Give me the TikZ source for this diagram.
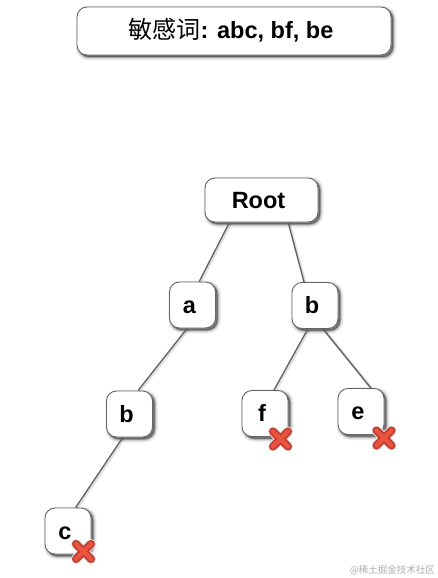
\documentclass[tikz,border=0pt]{standalone}
\usepackage{fontspec}
\setmainfont{Liberation Sans}
\newfontfamily\cjk{Noto Sans CJK SC}
\definecolor{xdarkc}{RGB}{196,58,48}
\definecolor{xredc}{RGB}{232,84,62}
\definecolor{xhaloc}{RGB}{226,222,220}
\newcommand{\lbl}[1]{\raisebox{-8pt}[0pt][0pt]{#1}\kern6pt}
\tikzset{
  softshadow/.style={
    preaction={draw=black,line width=7pt,opacity=.05,transform canvas={shift={(2pt,-2pt)}},fill=black},
    preaction={draw=black,line width=5pt,opacity=.08,transform canvas={shift={(2pt,-2pt)}},fill=black},
    preaction={draw=black,line width=3pt,opacity=.12,transform canvas={shift={(2pt,-2pt)}},fill=black},
    preaction={draw=black,line width=1.5pt,opacity=.2,transform canvas={shift={(2pt,-2pt)}},fill=black}},
  card/.style={rectangle,rounded corners=10pt,draw=black!60,line width=.9pt,fill=white,inner sep=0pt,
    softshadow,font=\fontsize{23.5}{26}\selectfont\bfseries,text=black},
  letterbox/.style={card,minimum width=46pt,minimum height=46pt},
  edgeglow/.style={draw=black,line width=3pt,opacity=.12},
  edge/.style={draw=black!62,line width=1.3pt},
  xhalo/.style={line cap=round,line width=10pt,draw=xhaloc},
  xdark/.style={line cap=round,line width=8pt,draw=xdarkc},
  xred/.style={line cap=round,line width=4.5pt,draw=xredc},
  crossmark/.pic={
    \foreach \sty in {xhalo,xdark,xred}{
      \draw[\sty] (-7.5pt,-7.5pt) -- (7.5pt,7.5pt);
      \draw[\sty] (-7.5pt,7.5pt) -- (7.5pt,-7.5pt);
    }
  }
}
\begin{document}
\begin{tikzpicture}[x=1pt,y=-1pt]
\useasboundingbox[fill=white] (0,0) rectangle (438,578);
\node[card,minimum width=314pt,minimum height=48pt] (title) at (234,31)
  {\lbl{{\cjk\fontsize{24}{26}\selectfont\mdseries 敏感词}\fontsize{23.5}{26}\selectfont: abc, bf, be}};
\node[card,minimum width=113pt,minimum height=44pt] (root) at (261.5,200) {\lbl{Root}};
\node[letterbox] (a) at (192.5,305) {\lbl{a}};
\node[letterbox] (br) at (315,305.5) {\lbl{b}};
\node[letterbox] (bl) at (129.5,414) {\lbl{b}};
\node[letterbox] (f) at (265,413.5) {\lbl{f}};
\node[letterbox] (e) at (361,411.5) {\lbl{e}};
\node[letterbox] (c) at (68,531) {\lbl{c}};
\foreach \sa/\aa/\sb/\ab in {root/215/a/74,root/320/br/115,a/257/bl/70,br/253/f/69,br/289/e/67,bl/254/c/72}{
  \draw[edgeglow] ([shift={(1pt,-1pt)}]\sa.\aa) -- ([shift={(1pt,-1pt)}]\sb.\ab);
  \draw[edge] (\sa.\aa) -- (\sb.\ab);
}
\pic at (280.5,439) {crossmark};
\pic at (384,438) {crossmark};
\pic at (83.5,551.5) {crossmark};
\node[font=\cjk\fontsize{9.5}{11}\selectfont,text=black!32,inner sep=0pt,anchor=east] (mark) at (435,570) {@稀土掘金技术社区};
\end{tikzpicture}
\end{document}
